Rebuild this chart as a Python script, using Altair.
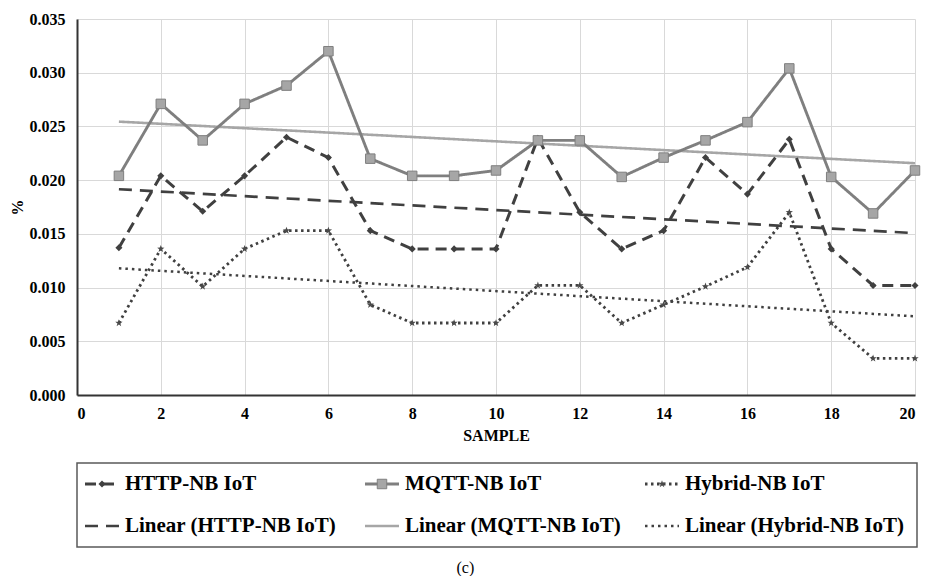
import altair as alt
import pandas as pd

samples = list(range(1, 21))
http = [0.0137, 0.0204, 0.0171, 0.0204, 0.0240, 0.0221, 0.0153, 0.0136, 0.0136, 0.0136,
        0.0239, 0.0170, 0.0136, 0.0153, 0.0221, 0.0187, 0.0238, 0.0136, 0.0102, 0.0102]
mqtt = [0.0204, 0.0271, 0.0237, 0.0271, 0.0288, 0.0320, 0.0220, 0.0204, 0.0204, 0.0209,
        0.0237, 0.0237, 0.0203, 0.0221, 0.0237, 0.0254, 0.0304, 0.0203, 0.0169, 0.0209]
hybrid = [0.0067, 0.0136, 0.0101, 0.0136, 0.0153, 0.0153, 0.0084, 0.0067, 0.0067, 0.0067,
          0.0102, 0.0102, 0.0067, 0.0084, 0.0101, 0.0119, 0.0170, 0.0067, 0.0034, 0.0034]

series_names = ["HTTP-NB IoT", "MQTT-NB IoT", "Hybrid-NB IoT"]
trend_names = ["Linear (HTTP-NB IoT)", "Linear (MQTT-NB IoT)", "Linear (Hybrid-NB IoT)"]
x_ticks = list(range(0, 21, 2))
y_ticks = [0.0, 0.005, 0.010, 0.015, 0.020, 0.025, 0.030, 0.035]
legend_cols = [0, 1, 2, 0, 1, 2]
legend_rows = [0, 0, 0, 1, 1, 1]

rows = []
for name, vals in zip(series_names, [http, mqtt, hybrid]):
    for s, v in zip(samples, vals):
        rows.append({"sample": s, "value": v, "series": name})
df = pd.DataFrame(rows)

domain = series_names + trend_names
leg_df = pd.DataFrame({"series": domain, "col": legend_cols, "row": legend_rows})

FONT = "Liberation Serif"
colors = ["#404040", "#7f7f7f", "#404040", "#404040", "#a6a6a6", "#404040"]
dashes = [[11, 7], [1, 0], [2.5, 3.5], [13, 8], [1, 0], [2.5, 4]]
widths = [3, 2.5, 2.5, 3, 1.5, 2.5]

stroke_enc = alt.Stroke("series:N", scale=alt.Scale(domain=domain, range=colors), legend=None)
dash_enc = alt.StrokeDash("series:N", scale=alt.Scale(domain=domain, range=dashes), legend=None)
width_enc = alt.StrokeWidth("series:N", scale=alt.Scale(domain=domain, range=widths), legend=None)

x_enc = alt.X("sample:Q", scale=alt.Scale(domain=[0, 20], nice=False),
              axis=alt.Axis(values=x_ticks, title="SAMPLE", format="d"))
y_enc = alt.Y("value:Q", scale=alt.Scale(domain=[0, 0.035], nice=False),
              axis=alt.Axis(values=y_ticks, title="%", format=".3f"))

base = alt.Chart(df)

lines = base.mark_line().encode(x=x_enc, y=y_enc, stroke=stroke_enc,
                                strokeDash=dash_enc, strokeWidth=width_enc)

trend = base.transform_regression(
    "sample", "value", groupby=["series"], method="linear", extent=[1, 20]
).transform_calculate(
    series="'Linear (' + datum.series + ')'"
).mark_line().encode(x=x_enc, y=y_enc, stroke=stroke_enc,
                     strokeDash=dash_enc, strokeWidth=width_enc)

star = "M0,-1L0.24,-0.33L0.95,-0.31L0.38,0.12L0.59,0.81L0,0.4L-0.59,0.81L-0.38,0.12L-0.95,-0.31L-0.24,-0.33Z"
marker_styles = {
    "HTTP-NB IoT": dict(shape="diamond", filled=True, size=50, color="#404040", opacity=1),
    "MQTT-NB IoT": dict(shape="square", filled=True, size=90, fill="#a6a6a6",
                        stroke="#7f7f7f", strokeWidth=1, opacity=1),
    "Hybrid-NB IoT": dict(shape=star, filled=True, size=60, color="#4a4a4a", opacity=1),
}

plot_pts = [
    base.transform_filter(alt.datum.series == name).mark_point(**st).encode(
        x="sample:Q", y="value:Q")
    for name, st in marker_styles.items()
]

plot = alt.layer(trend, lines, *plot_pts).properties(
    width=838, height=376, view=alt.ViewBackground(stroke="transparent"))

# ---- legend panel ----
lx = alt.X("col:O", axis=None, scale=alt.Scale(paddingInner=0, paddingOuter=0))
ly = alt.Y("row:O", axis=None, scale=alt.Scale(paddingInner=0, paddingOuter=0))
lbase = alt.Chart(leg_df)

SYM_OFF = -115
TXT_OFF = -92

seg = lbase.mark_point(shape="M-1,0H1", size=1156, filled=False, opacity=1,
                       xOffset=SYM_OFF).encode(
    x=lx, y=ly, stroke=stroke_enc, strokeDash=dash_enc, strokeWidth=width_enc)

leg_pts = [
    lbase.transform_filter(alt.datum.series == name).mark_point(xOffset=SYM_OFF, **st).encode(
        x=lx, y=ly)
    for name, st in marker_styles.items()
]

labels = lbase.mark_text(align="left", baseline="middle", xOffset=TXT_OFF, font=FONT,
                         fontSize=21, fontWeight="bold", color="black").encode(
    x=lx, y=ly, text="series:N")

legend = alt.layer(seg, *leg_pts, labels).properties(
    width=840, height=84,
    view=alt.ViewBackground(stroke="#595959", strokeWidth=1.5))

chart = alt.vconcat(plot, legend, spacing=18).properties(
    padding={"left": 0, "top": 2, "right": 0, "bottom": 0},
    title=alt.TitleParams("(c)", orient="bottom", anchor="middle", font=FONT, fontSize=16,
                          fontWeight="normal", color="black", offset=12),
).configure_axis(
    labelFont=FONT, labelFontSize=16, labelFontWeight="bold", labelColor="black",
    titleFont=FONT, titleFontSize=16, titleFontWeight="bold", titleColor="black",
    gridColor="#d9d9d9", gridWidth=1, domainColor="#333333", domainWidth=2,
    ticks=False,
).configure_axisX(labelPadding=10, titlePadding=6).configure_axisY(
    labelPadding=12, titlePadding=4)

chart.save("out.html", embed_options={"renderer": "svg", "actions": False})
